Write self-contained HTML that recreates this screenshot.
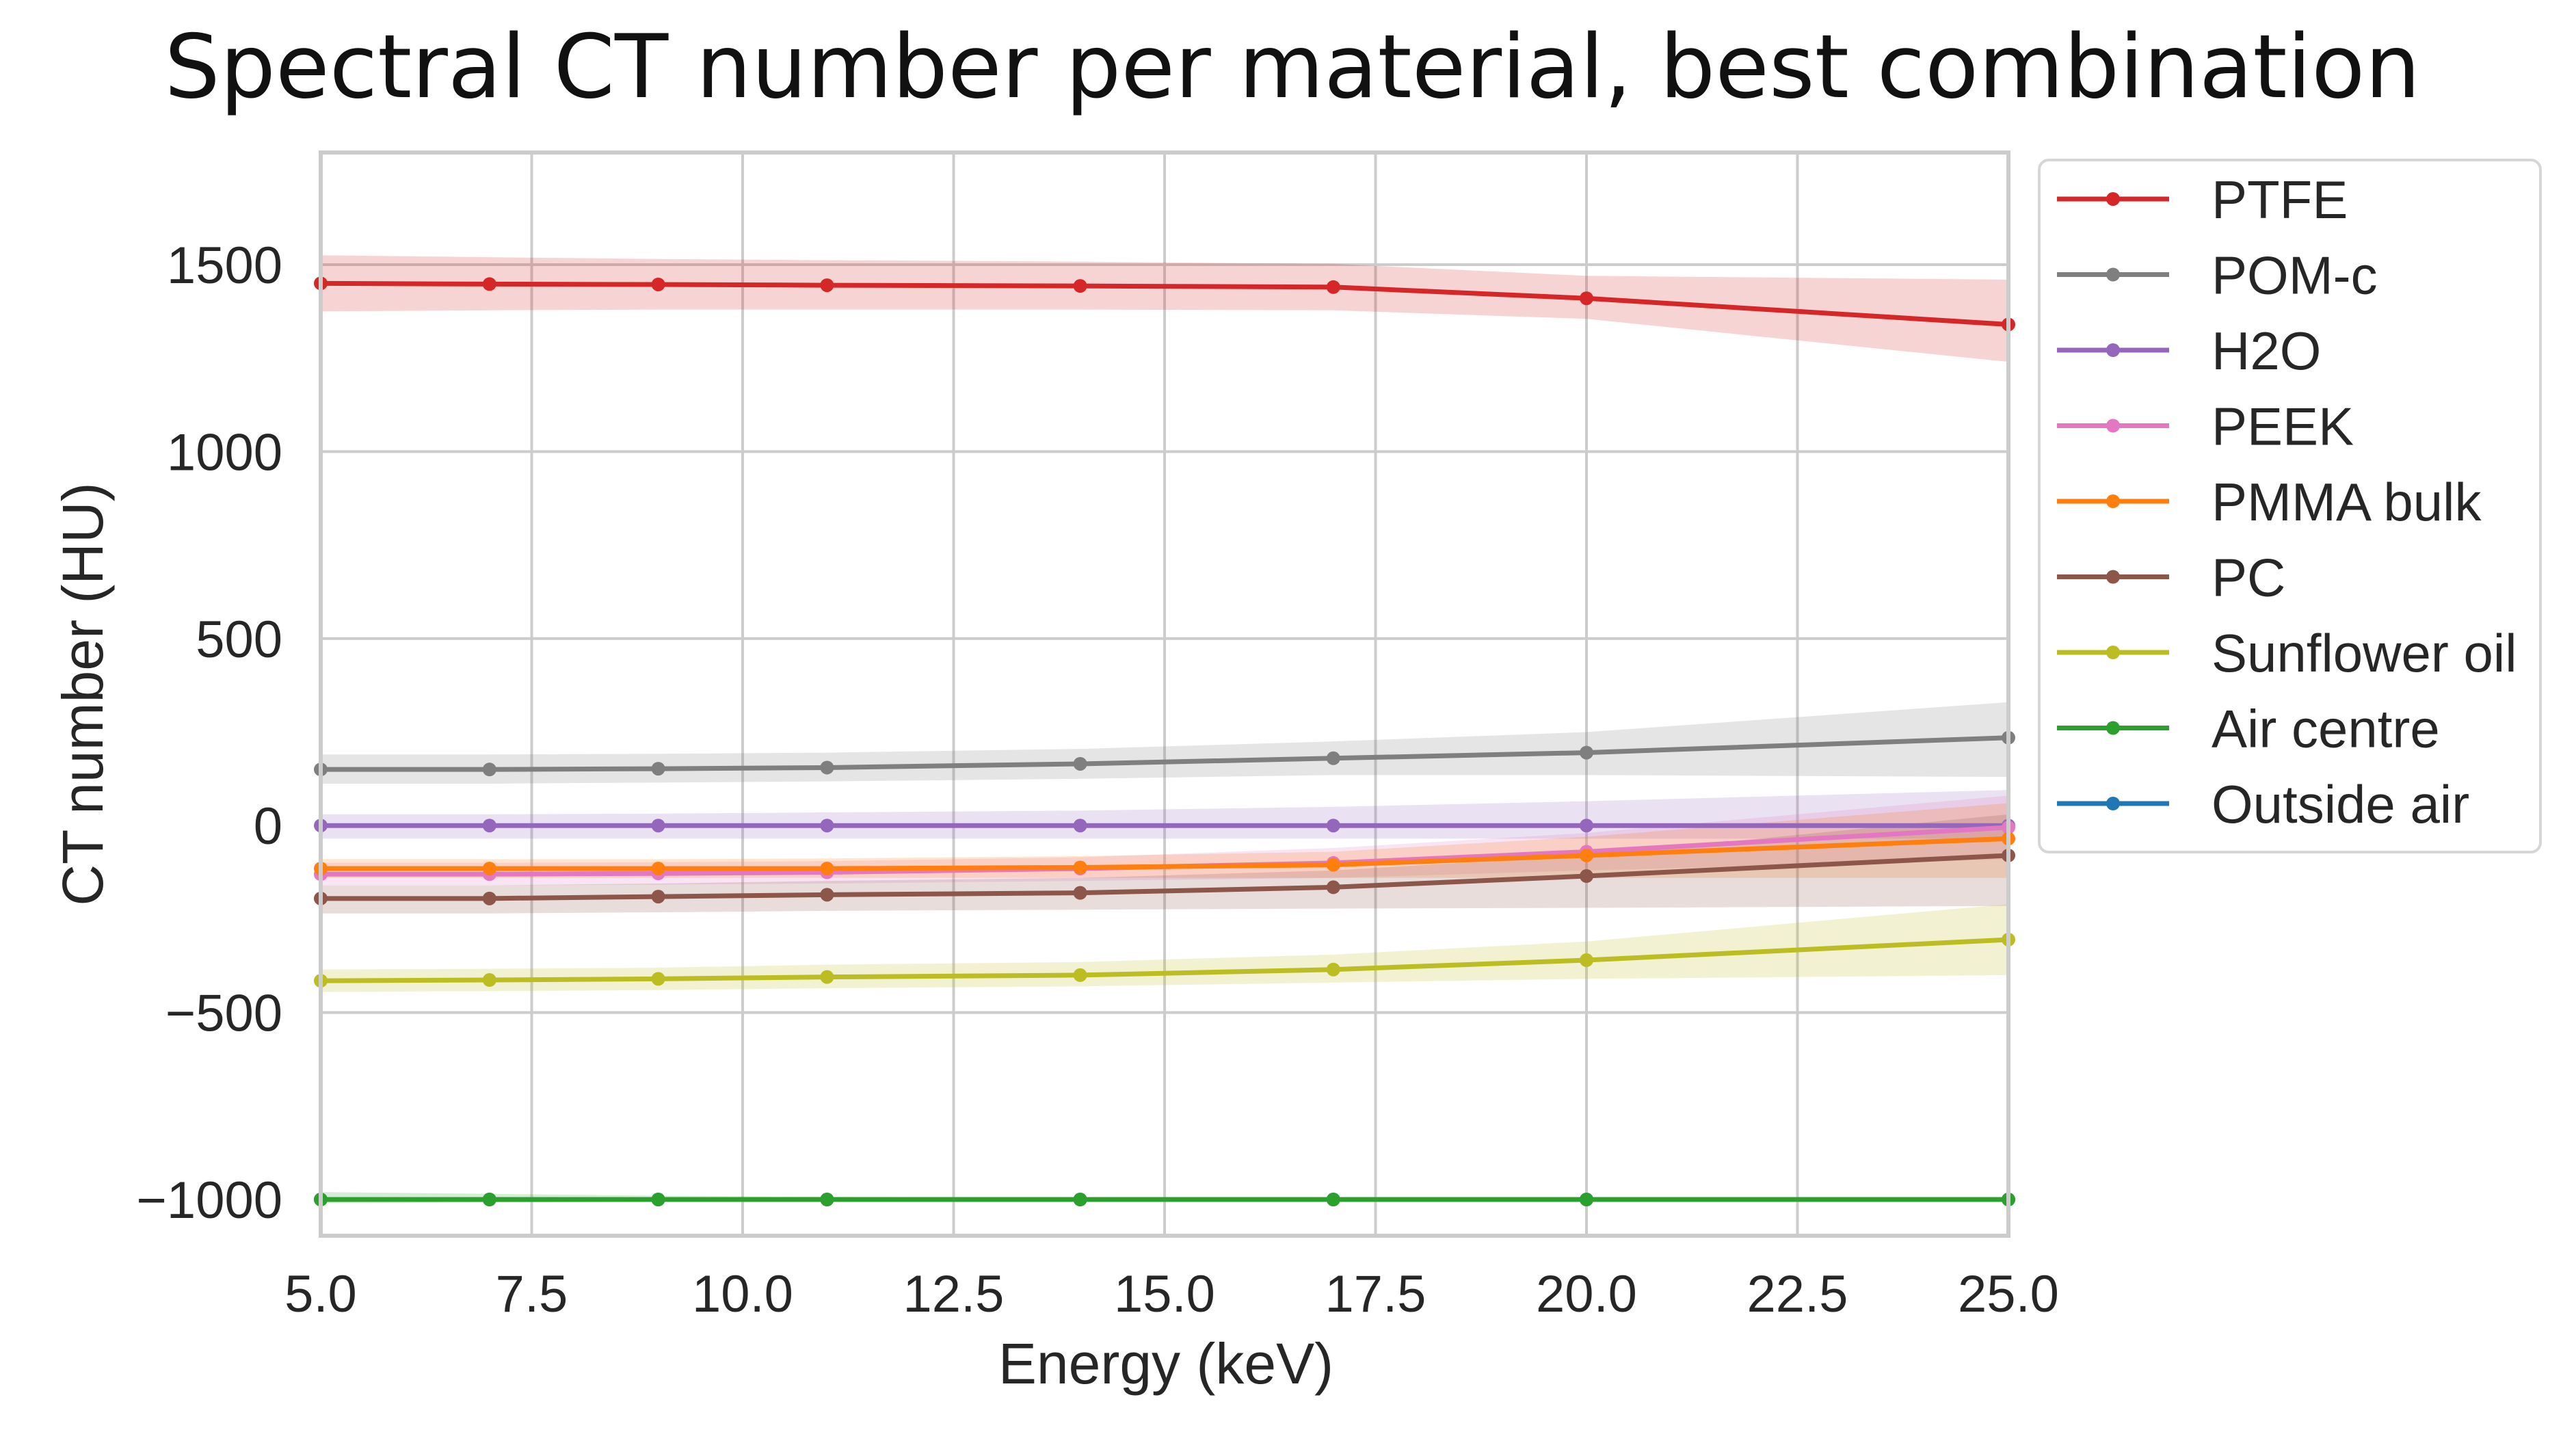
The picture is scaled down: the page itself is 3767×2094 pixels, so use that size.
<!DOCTYPE html>
<html><head><meta charset="utf-8">
<style>
html,body{margin:0;padding:0;background:#fff;}
svg{display:block;font-family:"Liberation Sans",sans-serif;}
</style></head>
<body>
<svg id="chart" width="3767" height="2094" viewBox="0 0 3767 2094" xmlns="http://www.w3.org/2000/svg">
<text x="1890" y="142" font-size="128" text-anchor="middle" fill="#111" font-family="'DejaVu Sans','Liberation Sans',sans-serif">Spectral CT number per material, best combination</text>
<g id="grid"></g>
<g id="bands"></g>
<g id="series"></g>
<g id="axes"></g>
<text x="1705" y="2023" font-size="84" text-anchor="middle" fill="#262626">Energy (keV)</text>
<text transform="translate(150,1015) rotate(-90)" font-size="84" text-anchor="middle" fill="#262626">CT number (HU)</text>
<g id="legend"></g>
</svg>
<script>
const energies = [5, 7, 9, 11, 14, 17, 20, 25];
const xTicks = [5.0, 7.5, 10.0, 12.5, 15.0, 17.5, 20.0, 22.5, 25.0];
const yTicks = [-1000, -500, 0, 500, 1000, 1500];
const names = ["PTFE","POM-c","H2O","PEEK","PMMA bulk","PC","Sunflower oil","Air centre","Outside air"];
const colors = ["#d62728","#7f7f7f","#9467bd","#e377c2","#ff7f0e","#8c564b","#bcbd22","#2ca02c","#1f77b4"];
const ptfe = [1450,1448,1447,1445,1443,1440,1410,1340];
const ptfeLo = [1375,1378,1380,1380,1380,1378,1355,1240];
const ptfeHi = [1525,1520,1515,1512,1508,1502,1470,1460];
const pomc = [150,150,152,155,165,180,195,235];
const pomcLo = [112,112,115,118,125,135,135,130];
const pomcHi = [190,190,192,195,205,225,250,330];
const h2o = [0,0,0,0,0,0,0,0];
const h2oLo = [-35,-35,-35,-35,-35,-35,-35,-35];
const h2oHi = [30,30,32,35,40,50,65,95];
const peek = [-130,-130,-128,-125,-115,-100,-70,-5];
const peekLo = [-160,-160,-158,-155,-148,-140,-120,-90];
const peekHi = [-100,-100,-98,-95,-85,-60,-20,80];
const pmma = [-115,-115,-115,-115,-112,-105,-80,-35];
const pmmaLo = [-140,-140,-140,-140,-140,-140,-140,-140];
const pmmaHi = [-90,-90,-90,-88,-82,-70,-30,60];
const pc = [-195,-195,-190,-185,-180,-165,-135,-80];
const pcLo = [-235,-235,-232,-228,-225,-222,-220,-215];
const pcHi = [-160,-160,-155,-148,-140,-120,-80,30];
const oil = [-415,-413,-410,-405,-400,-385,-360,-305];
const oilLo = [-445,-443,-440,-435,-430,-420,-410,-400];
const oilHi = [-385,-383,-380,-372,-365,-345,-310,-210];
const airC = [-1000,-1000,-1000,-1000,-1000,-1000,-1000,-1000];
const airCLo = [-1010,-1008,-1006,-1004,-1003,-1002,-1002,-1002];
const airCHi = [-980,-985,-990,-993,-995,-996,-997,-997];
const airO = [-1000,-1000,-1000,-1000,-1000,-1000,-1000,-1000];
const airOLo = [-1002,-1002,-1002,-1002,-1002,-1002,-1002,-1002];
const airOHi = [-998,-998,-998,-998,-998,-998,-998,-998];

const L=469,R=2937,T=223,B=1807;
const xmin=5,xmax=25;
function xs(v){return L+(v-xmin)/(xmax-xmin)*(R-L);}
function ys(v){return 387+(1500-v)*(1367/2500);}
const NS="http://www.w3.org/2000/svg";
function mk(tag,attrs,parent){const e=document.createElementNS(NS,tag);for(const k in attrs)e.setAttribute(k,attrs[k]);parent.appendChild(e);return e;}
const grid=document.getElementById('grid'),axes=document.getElementById('axes'),bands=document.getElementById('bands'),series=document.getElementById('series'),legend=document.getElementById('legend');
mk('rect',{x:L,y:T,width:R-L,height:B-T,fill:'#fff'},grid);
xTicks.forEach(t=>{
  const l=mk('line',{x1:xs(t),x2:xs(t),y1:T,y2:B,stroke:'#cccccc','stroke-width':4},grid);
  
  
  const tx=mk('text',{x:xs(t),y:1918,'font-size':76,'text-anchor':'middle',fill:'#262626'},axes);
  tx.textContent=t.toFixed(1);
  
  
});
yTicks.forEach(t=>{
  const l=mk('line',{x1:L,x2:R,y1:ys(t),y2:ys(t),stroke:'#cccccc','stroke-width':4},grid);
  
  
  const tx=mk('text',{x:413,y:ys(t)+27,'font-size':76,'text-anchor':'end',fill:'#262626'},axes);
  tx.textContent=(t<0?'\u2212':'')+Math.abs(t);
  
  
});
const sp=mk('rect',{x:L,y:T,width:R-L,height:B-T,fill:'none',stroke:'#cccccc','stroke-width':6},axes);



const vals=[ptfe,pomc,h2o,peek,pmma,pc,oil,airC,airO];
const los=[ptfeLo,pomcLo,h2oLo,peekLo,pmmaLo,pcLo,oilLo,airCLo,airOLo];
const his=[ptfeHi,pomcHi,h2oHi,peekHi,pmmaHi,pcHi,oilHi,airCHi,airOHi];
const order=[8,0,1,2,3,4,5,6,7];
order.forEach(i=>{
  let d='';
  energies.forEach((e,j)=>{d+=(j?'L':'M')+xs(e)+','+ys(his[i][j]);});
  for(let j=energies.length-1;j>=0;j--)d+='L'+xs(energies[j])+','+ys(los[i][j]);
  const b=mk('path',{d:d+'Z',fill:colors[i],'fill-opacity':0.2,stroke:'none'},bands);
  
  
});
order.forEach(i=>{
  const g=mk('g',{},series);
  
  
  const pts=energies.map((e,j)=>xs(e)+','+ys(vals[i][j])).join(' ');
  mk('polyline',{points:pts,fill:'none',stroke:colors[i],'stroke-width':7},g);
  energies.forEach((e,j)=>{
    const c=mk('circle',{cx:xs(e),cy:ys(vals[i][j]),r:10,fill:colors[i]},g);
    
    
  });
});
const lb=mk('rect',{x:2982,y:234,width:733,height:1012,rx:14,fill:'#fff',stroke:'#d6d6d6','stroke-width':4},legend);


names.forEach((n,i)=>{
  const y=291+i*110.5;
  const g=mk('g',{},legend);
  
  
  mk('line',{x1:3008,x2:3172,y1:y,y2:y,stroke:colors[i],'stroke-width':7},g);
  mk('circle',{cx:3090,cy:y,r:10,fill:colors[i]},g);
  const t=mk('text',{x:3234,y:y+28,'font-size':78,fill:'#262626'},g);
  t.textContent=n;
});
</script>
</body></html>
